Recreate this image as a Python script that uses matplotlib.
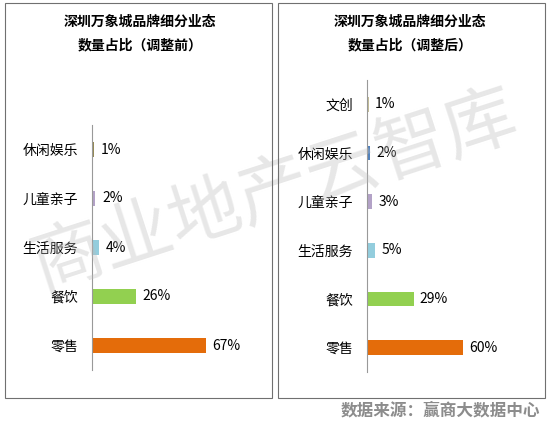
import matplotlib.pyplot as plt
from matplotlib.patches import Rectangle

plt.rcParams['font.family'] = ['Noto Sans CJK SC', 'DejaVu Sans']

cats_before = ['零售', '餐饮', '生活服务', '儿童亲子', '休闲娱乐']
vals_before = [67, 26, 4, 2, 1]
cols_before = ['#E46C0A', '#92D050', '#93CDDD', '#B3A2C7', '#948A54']

cats_after = ['零售', '餐饮', '生活服务', '儿童亲子', '休闲娱乐', '文创']
vals_after = [60, 29, 5, 3, 2, 1]
cols_after = ['#E46C0A', '#92D050', '#93CDDD', '#B3A2C7', '#4F81BD', '#C4BD97']

W, H = 550, 425
fig = plt.figure(figsize=(W / 100, H / 100), dpi=100)

def px(x0, y0, w, h):
    return [x0 / W, 1 - (y0 + h) / H, w / W, h / H]

# panel borders
for x0 in (5, 278):
    fig.patches.append(Rectangle((x0 / W, 27 / H), 267 / W, 395 / H, transform=fig.transFigure,
                                 fill=False, ec='#707070', lw=0.8))

def panel(rect, cats, vals, cols, xmax):
    ax = fig.add_axes(rect)
    y = range(len(cats))
    ax.barh(y, vals, color=cols, height=0.3)
    for i, v in enumerate(vals):
        ax.text(v + 4, i, f'{v}%', va='center', ha='left', fontsize=10)
    ax.set_yticks(list(y))
    ax.set_yticklabels(cats, fontsize=10)
    ax.set_ylim(-0.5, len(cats) - 0.5)
    ax.set_xlim(0, xmax)
    ax.set_xticks([])
    for s in ('top', 'right', 'bottom'):
        ax.spines[s].set_visible(False)
    ax.spines['left'].set_color('#999999')
    ax.tick_params(axis='y', length=0, pad=10)
    ax.patch.set_alpha(0)
    return ax

panel(px(92, 125, 178, 245), cats_before, vals_before, cols_before, 105)
panel(px(367, 80, 178, 292), cats_after, vals_after, cols_after, 111)

fig.text(140 / W, 1 - 22 / H, '深圳万象城品牌细分业态', ha='center', va='center', fontsize=10, fontweight='bold')
fig.text(140 / W, 1 - 45 / H, '数量占比（调整前）', ha='center', va='center', fontsize=10, fontweight='bold')
fig.text(410 / W, 1 - 22 / H, '深圳万象城品牌细分业态', ha='center', va='center', fontsize=10, fontweight='bold')
fig.text(410 / W, 1 - 45 / H, '数量占比（调整后）', ha='center', va='center', fontsize=10, fontweight='bold')

fig.text(540 / W, 1 - 410 / H, '数据来源：赢商大数据中心', ha='right', va='center', fontsize=12,
         fontweight='bold', color='#8C8C8C')

fig.text(0.5, 0.55, '商业地产云智库', ha='center', va='center', fontsize=52, rotation=18,
         color='#BBBBBB', alpha=0.35, zorder=0)

fig.savefig('out.png', dpi=100)
